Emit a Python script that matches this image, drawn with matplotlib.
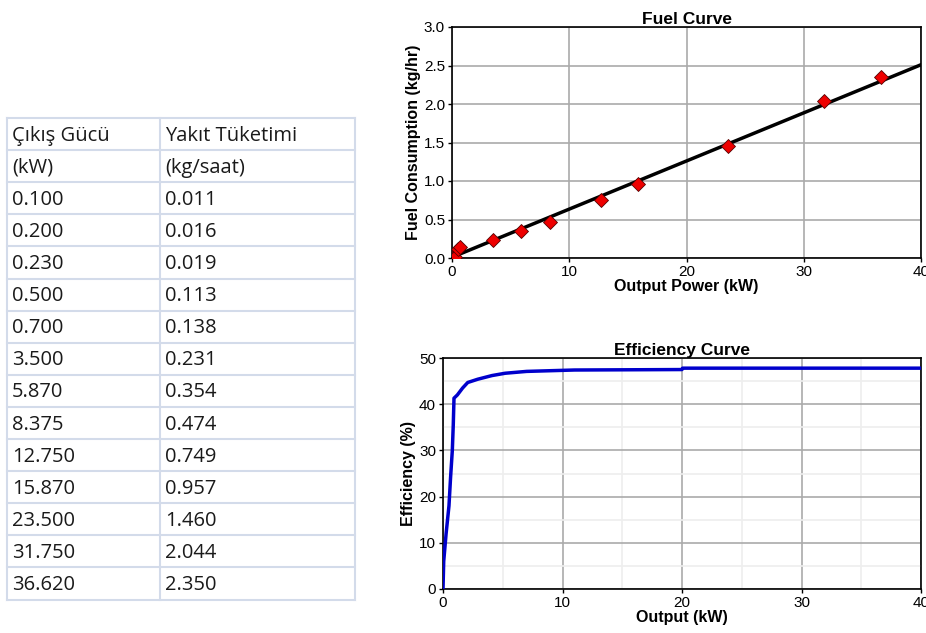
import matplotlib
matplotlib.use("Agg")
import matplotlib.pyplot as plt
from matplotlib.ticker import MultipleLocator

plt.rcParams['font.family'] = ['Liberation Sans', 'DejaVu Sans']

# ---- data ----
table_header1 = ["Çıkış Gücü", "Yakıt Tüketimi"]
table_header2 = ["(kW)", "(kg/saat)"]
power_kw = [0.100, 0.200, 0.230, 0.500, 0.700, 3.500, 5.870, 8.375,
            12.750, 15.870, 23.500, 31.750, 36.620]
fuel_kg = [0.011, 0.016, 0.019, 0.113, 0.138, 0.231, 0.354, 0.474,
           0.749, 0.957, 1.460, 2.044, 2.350]

fit_x = [0.0, 40.0]
fit_y = [0.01, 2.51]

eff_x = [0.0, 0.06, 0.26, 0.5, 0.63, 0.78, 0.86, 0.92, 1.2, 1.64, 2.07,
         2.9, 4.1, 5.2, 7.0, 11.0, 20.0, 20.05, 40.0]
eff_y = [0.0, 6.0, 12.0, 18.0, 24.0, 30.0, 35.6, 41.3, 42.0, 43.5, 44.7,
         45.4, 46.2, 46.7, 47.1, 47.4, 47.5, 47.8, 47.8]

W, H = 926, 633
fig = plt.figure(figsize=(W / 100, H / 100), dpi=100)

# ---- table ----
tax = fig.add_axes([0, 0, 1, 1])
tax.set_xlim(0, W)
tax.set_ylim(H, 0)
tax.axis('off')
rows = [table_header1, table_header2] + [[f"{p:.3f}", f"{f:.3f}"] for p, f in zip(power_kw, fuel_kg)]
top, rh = 118, 32.1
col_x = [7, 160, 355]
border = '#d3dbea'
n = len(rows)
for i in range(n + 1):
    y = top + i * rh
    tax.plot([col_x[0], col_x[-1]], [y, y], color=border, lw=1.5)
for x in col_x:
    tax.plot([x, x], [top, top + n * rh], color=border, lw=1.5)
for i, r in enumerate(rows):
    yc = top + (i + 0.55) * rh
    for j, t in enumerate(r):
        tax.text(col_x[j] + 5, yc, t, fontsize=14.5, family=['Open Sans', 'DejaVu Sans'],
                 color='#1a1a1a', va='center', ha='left')

# ---- fuel curve ----
ax1 = fig.add_axes([452 / W, (H - 258) / H, (921 - 452) / W, (258 - 27) / H])
ax1.plot(fit_x, fit_y, color='black', lw=2.5, zorder=3)
ax1.plot(power_kw, fuel_kg, linestyle='none', marker='D', markersize=7,
         markerfacecolor='#ee0000', markeredgecolor='#550000', markeredgewidth=0.6, zorder=4)
ax1.set_xlim(0, 40)
ax1.set_ylim(0, 3.0)
ax1.xaxis.set_major_locator(MultipleLocator(10))
ax1.yaxis.set_major_locator(MultipleLocator(0.5))
ax1.yaxis.set_major_formatter(plt.FuncFormatter(lambda v, p: f"{v:.1f}"))
ax1.grid(True, color='#aaaaaa', lw=1.2)
ax1.set_title("Fuel Curve", fontsize=12.5, fontweight='bold', pad=2)
ax1.set_xlabel("Output Power (kW)", fontsize=11.5, fontweight='bold', labelpad=0)
ax1.set_ylabel("Fuel Consumption (kg/hr)", fontsize=11.5, fontweight='bold', labelpad=2)

# ---- efficiency curve ----
ax2 = fig.add_axes([443 / W, (H - 589) / H, (921 - 443) / W, (589 - 358) / H])
ax2.plot(eff_x, eff_y, color='#0000cc', lw=2.5, zorder=3)
ax2.set_xlim(0, 40)
ax2.set_ylim(0, 50)
ax2.xaxis.set_major_locator(MultipleLocator(10))
ax2.yaxis.set_major_locator(MultipleLocator(10))
ax2.xaxis.set_minor_locator(MultipleLocator(5))
ax2.yaxis.set_minor_locator(MultipleLocator(5))
ax2.grid(True, which='major', color='#aaaaaa', lw=1.2)
ax2.grid(True, which='minor', color='#eeeeee', lw=1.2)
ax2.tick_params(which='minor', length=0)
ax2.set_title("Efficiency Curve", fontsize=12.5, fontweight='bold', pad=2)
ax2.set_xlabel("Output (kW)", fontsize=11.5, fontweight='bold', labelpad=0)
ax2.set_ylabel("Efficiency (%)", fontsize=11.5, fontweight='bold', labelpad=2)

for ax in (ax1, ax2):
    ax.set_axisbelow(True)
    for s in ax.spines.values():
        s.set_color('black')
        s.set_linewidth(1.2)
    ax.tick_params(which='major', length=3, width=1, labelsize=11, pad=2, colors='black')

fig.savefig("out.png", dpi=100)
